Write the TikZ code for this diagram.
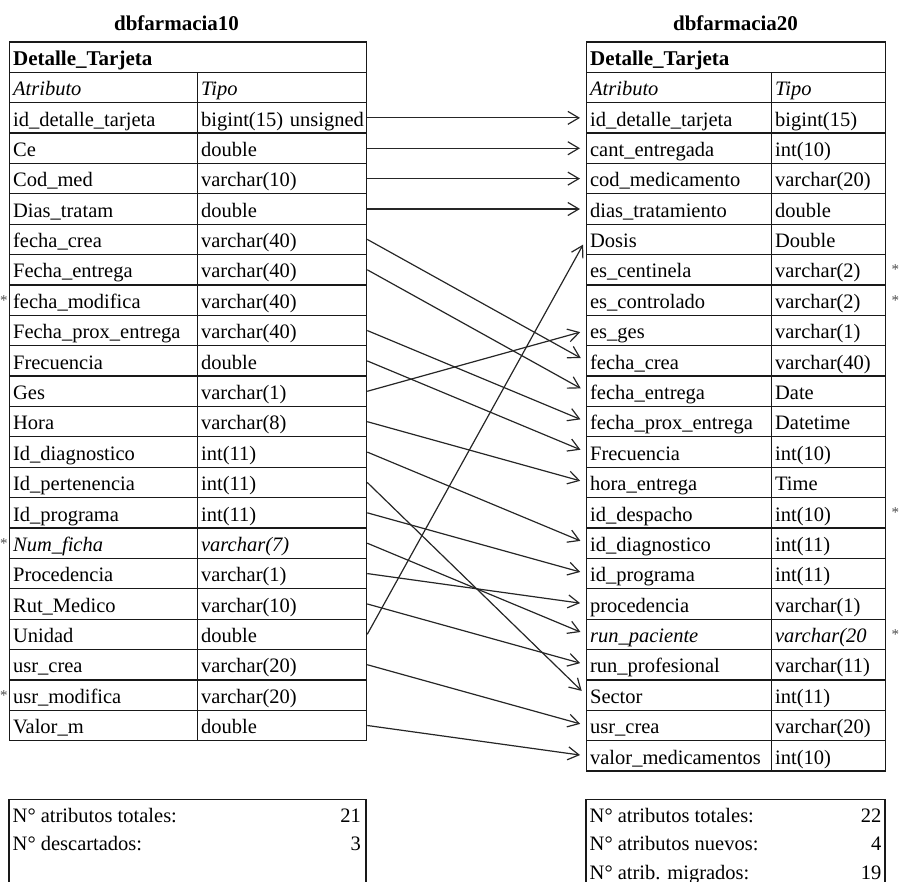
\documentclass[tikz,border=0pt]{standalone}
\usepackage{fontspec}
\setmainfont{Liberation Serif}
\usetikzlibrary{arrows.meta}

\tikzset{
  txt/.style={font=\fontsize{20.5}{24}\selectfont},
  plainrow/.style={},
  itrow/.style={font=\fontsize{20.5}{24}\selectfont\itshape},
  boldrow/.style={font=\fontsize{21}{24}\selectfont\bfseries},
  cell/.style={txt, draw=black!90, line width=1.25pt, anchor=north west,
    inner xsep=3.5pt, inner ysep=0pt, text height=19pt, text depth=2.6pt,
    minimum height=30.38pt, align=left},
  dbtitle/.style={font=\fontsize{21}{24}\selectfont\bfseries, anchor=base, inner sep=0pt},
  astnode/.style={font=\fontsize{15}{16}\selectfont, text=black!70, inner sep=0pt},
  sumbox/.style={draw=black!90, line width=1.25pt},
  sumtxt/.style={txt, inner sep=0pt},
  conn/.style={draw=black!85, line width=1.2pt,
    -{Straight Barb[length=11pt,width=13pt]}, shorten >=6pt}
}

\begin{document}
\begin{tikzpicture}[x=1pt,y=-1pt]
\useasboundingbox (0,0) rectangle (899,882);

% ---------- source table ----------
\node[dbtitle] (srcdb) at (176.5,31) {dbfarmacia10};
\node[cell, boldrow, text width=350pt] (srchead) at (9,41.3) {Detalle\_Tarjeta};
\node[cell, itrow, text width=181pt] (srcattr) at (9,71.68) {Atributo};
\node[cell, itrow, text width=162pt] (srctype) at (197,71.68) {Tipo};
\foreach \a/\t/\s [count=\i from 0] in {
  id\_detalle\_tarjeta/bigint(15) unsigned/plainrow,
  Ce/double/plainrow,
  Cod\_med/varchar(10)/plainrow,
  Dias\_tratam/double/plainrow,
  fecha\_crea/varchar(40)/plainrow,
  Fecha\_entrega/varchar(40)/plainrow,
  fecha\_modifica/varchar(40)/plainrow,
  Fecha\_prox\_entrega/varchar(40)/plainrow,
  Frecuencia/double/plainrow,
  Ges/varchar(1)/plainrow,
  Hora/varchar(8)/plainrow,
  Id\_diagnostico/int(11)/plainrow,
  Id\_pertenencia/int(11)/plainrow,
  Id\_programa/int(11)/plainrow,
  Num\_ficha/varchar(7)/itrow,
  Procedencia/varchar(1)/plainrow,
  Rut\_Medico/varchar(10)/plainrow,
  Unidad/double/plainrow,
  usr\_crea/varchar(20)/plainrow,
  usr\_modifica/varchar(20)/plainrow,
  Valor\_m/double/plainrow}{
  \pgfmathsetmacro{\yt}{41.3+30.38*(\i+2)}
  \node[cell, \s, text width=181pt] (LA\i) at (9,\yt) {\mbox{\a}};
  \node[cell, \s, text width=162pt] (LT\i) at (197,\yt) {\mbox{\t}};
}

% ---------- target table ----------
\node[dbtitle] (dstdb) at (735.5,31) {dbfarmacia20};
\node[cell, boldrow, text width=292pt] (dsthead) at (586,41.3) {Detalle\_Tarjeta};
\node[cell, itrow, text width=178pt] (dstattr) at (586,71.68) {Atributo};
\node[cell, itrow, text width=107pt] (dsttype) at (771,71.68) {Tipo};
\foreach \a/\t/\s [count=\i from 0] in {
  id\_detalle\_tarjeta/bigint(15)/plainrow,
  cant\_entregada/int(10)/plainrow,
  cod\_medicamento/varchar(20)/plainrow,
  dias\_tratamiento/double/plainrow,
  Dosis/Double/plainrow,
  es\_centinela/varchar(2)/plainrow,
  es\_controlado/varchar(2)/plainrow,
  es\_ges/varchar(1)/plainrow,
  fecha\_crea/varchar(40)/plainrow,
  fecha\_entrega/Date/plainrow,
  fecha\_prox\_entrega/Datetime/plainrow,
  Frecuencia/int(10)/plainrow,
  hora\_entrega/Time/plainrow,
  id\_despacho/int(10)/plainrow,
  id\_diagnostico/int(11)/plainrow,
  id\_programa/int(11)/plainrow,
  procedencia/varchar(1)/plainrow,
  run\_paciente/varchar(20/itrow,
  run\_profesional/varchar(11)/plainrow,
  Sector/int(11)/plainrow,
  usr\_crea/varchar(20)/plainrow,
  valor\_medicamentos/int(10)/plainrow}{
  \pgfmathsetmacro{\yt}{41.3+30.38*(\i+2)}
  \node[cell, \s, text width=178pt] (RA\i) at (586,\yt) {\mbox{\a}};
  \node[cell, \s, text width=107pt] (RT\i) at (771,\yt) {\mbox{\t}};
}

% ---------- flagged rows ----------
\foreach \i in {6,14,19}
  \node[astnode] (sL\i) at ([xshift=-5pt,yshift=0pt]LA\i.west) {*};
\foreach \i in {5,6,13,17}
  \node[astnode] (sR\i) at ([xshift=9pt,yshift=0pt]RT\i.east) {*};

% ---------- attribute mapping ----------
\foreach \a/\b in {0/0,1/1,2/2,3/3,4/8,5/9,7/10,8/11,9/7,10/12,11/14,
                   12/19,13/15,14/17,15/16,16/18,17/4,18/20,20/21}
  \draw[conn] (LT\a.east) -- (RA\b.west);

% ---------- summaries ----------
\draw[sumbox] (9,799.3) rectangle (366,905);
\node[sumtxt, anchor=base west] (ltot) at (12.5,822) {N° atributos totales:};
\node[sumtxt, anchor=base east] (ltotn) at (361,822) {21};
\node[sumtxt, anchor=base west] (ldesc) at (12.5,850.5) {N° descartados:};
\node[sumtxt, anchor=base east] (ldescn) at (361,850.5) {3};

\draw[sumbox] (586,799.3) rectangle (885,905);
\node[sumtxt, anchor=base west] (rtot) at (589.5,822) {N° atributos totales:};
\node[sumtxt, anchor=base east] (rtotn) at (881.5,822) {22};
\node[sumtxt, anchor=base west] (rnew) at (589.5,850.5) {N° atributos nuevos:};
\node[sumtxt, anchor=base east] (rnewn) at (881.5,850.5) {4};
\node[sumtxt, anchor=base west] (rmig) at (589.5,879) {N° atrib. migrados:};
\node[sumtxt, anchor=base east] (rmign) at (881.5,879) {19};
\end{tikzpicture}
\end{document}
